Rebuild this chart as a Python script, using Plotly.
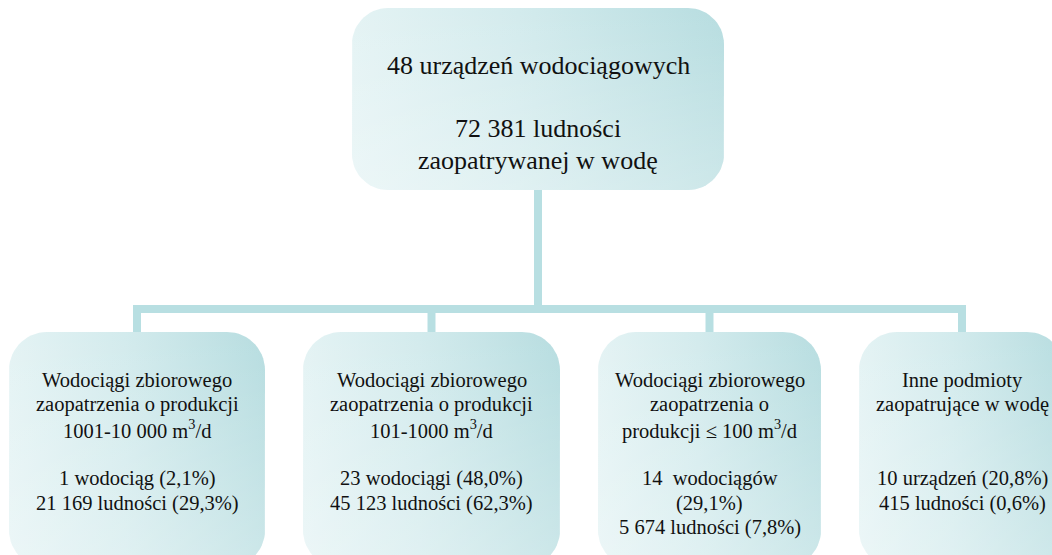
import numpy as np
import plotly.graph_objects as go

# ---------------- data ----------------
total_units = 48
total_population = 72381
top_lines = ["{} urządzeń wodociągowych", "", "{} ludności", "zaopatrywanej w wodę"]

categories = [
    ["Wodociągi zbiorowego", "zaopatrzenia o produkcji", "1001-10 000 m<sup>3</sup>/d"],
    ["Wodociągi zbiorowego", "zaopatrzenia o produkcji", "101-1000 m<sup>3</sup>/d"],
    ["Wodociągi zbiorowego", "zaopatrzenia o", "produkcji ≤ 100 m<sup>3</sup>/d"],
    ["Inne podmioty", "zaopatrujące w wodę"],
]
unit_words = ["wodociąg", "wodociągi", "\u00a0wodociągów", "urządzeń"]
units = [1, 23, 14, 10]
unit_pct = [2.1, 48.0, 29.1, 20.8]
population = [21169, 45123, 5674, 415]
population_pct = [29.3, 62.3, 7.8, 0.6]
wrap_units_pct = [False, False, True, False]

# ---------------- layout constants ----------------
W, H = 1052, 555
TOP_BOX = (352, 8, 724, 190)
BOXES_X = [(9, 265), (303, 560), (598, 821), (859, 1065)]
BOX_Y = (332, 568)
RADIUS_TOP = 36
RADIUS = 38
LINK_W = 8
BAR_Y = 309
C_LIGHT = "#e4f3f4"
C_DARK = "#b7dde0"
C_LINK = "#b8dfe2"
FONT = "'Liberation Serif', 'Times New Roman', serif"
TXT = "#111111"


def pl_int(n):
    return f"{n:,}".replace(",", " ")


def pl_pct(p):
    return f"{p:.1f}".replace(".", ",") + "%"


def rounded_rect(x0, y0, x1, y1, r, n=16):
    xs, ys = [], []
    corners = [
        (x1 - r, y0 + r, -np.pi / 2, 0),
        (x1 - r, y1 - r, 0, np.pi / 2),
        (x0 + r, y1 - r, np.pi / 2, np.pi),
        (x0 + r, y0 + r, np.pi, 1.5 * np.pi),
    ]
    for cx, cy, a0, a1 in corners:
        a = np.linspace(a0, a1, n)
        xs.extend(cx + r * np.cos(a))
        ys.extend(cy + r * np.sin(a))
    xs.append(xs[0])
    ys.append(ys[0])
    return xs, ys


fig = go.Figure()


def add_box(x0, y0, x1, y1, r):
    xs, ys = rounded_rect(x0, y0, x1, y1, r)
    fig.add_trace(go.Scatter(
        x=xs, y=ys, mode="lines", fill="toself",
        line=dict(width=0, color="rgba(0,0,0,0)"),
        fillgradient=dict(type="horizontal",
                          colorscale=[[0, C_LIGHT], [0.45, "#d3ebed"], [1, C_DARK]]),
        hoverinfo="skip", showlegend=False))
    fig.add_trace(go.Scatter(
        x=xs, y=ys, mode="lines", fill="toself",
        line=dict(width=0, color="rgba(0,0,0,0)"),
        fillgradient=dict(type="vertical",
                          colorscale=[[0, "rgba(255,255,255,0.3)"],
                                      [1, "rgba(255,255,255,0)"]]),
        hoverinfo="skip", showlegend=False))


# connectors
shapes = []
tcx = (TOP_BOX[0] + TOP_BOX[2]) / 2
centers = [(a + b) / 2 for a, b in BOXES_X]
shapes.append(dict(type="rect", xref="x", yref="y", layer="below",
                   x0=tcx - LINK_W / 2, x1=tcx + LINK_W / 2,
                   y0=TOP_BOX[3] - 2, y1=BAR_Y + LINK_W / 2,
                   fillcolor=C_LINK, line=dict(width=0)))
shapes.append(dict(type="rect", xref="x", yref="y", layer="below",
                   x0=centers[0] - LINK_W / 2, x1=centers[-1] + LINK_W / 2,
                   y0=BAR_Y - LINK_W / 2, y1=BAR_Y + LINK_W / 2,
                   fillcolor=C_LINK, line=dict(width=0)))
for c in centers:
    shapes.append(dict(type="rect", xref="x", yref="y", layer="below",
                       x0=c - LINK_W / 2, x1=c + LINK_W / 2,
                       y0=BAR_Y - LINK_W / 2, y1=BOX_Y[0] + 2,
                       fillcolor=C_LINK, line=dict(width=0)))

# boxes
add_box(*TOP_BOX, RADIUS_TOP)
for (x0, x1) in BOXES_X:
    add_box(x0, BOX_Y[0], x1, BOX_Y[1], RADIUS)

annotations = []

# top text
top_text = [top_lines[0].format(total_units), top_lines[1],
            top_lines[2].format(pl_int(total_population)), top_lines[3]]
TOP_Y0, TOP_PITCH = 65, 31.7
for i, t in enumerate(top_text):
    if t:
        annotations.append(dict(x=tcx, y=TOP_Y0 + i * TOP_PITCH, text=t,
                                showarrow=False, xanchor="center", yanchor="middle",
                                font=dict(family=FONT, size=26, color=TXT)))

# child texts
BOX_Y0, BOX_PITCH = 380, 24.6
for k, c in enumerate(centers):
    lines = list(categories[k])
    while len(lines) < 4:
        lines.append("")
    ulabel = f"{units[k]} {unit_words[k]}"
    upct = f"({pl_pct(unit_pct[k])})"
    if wrap_units_pct[k]:
        lines += [ulabel, upct]
    else:
        lines += [f"{ulabel} {upct}"]
    lines.append(f"{pl_int(population[k])} ludności ({pl_pct(population_pct[k])})")
    for i, t in enumerate(lines):
        if t:
            annotations.append(dict(x=c, y=BOX_Y0 + i * BOX_PITCH, text=t,
                                    showarrow=False, xanchor="center", yanchor="middle",
                                    font=dict(family=FONT, size=20.5, color=TXT)))

fig.update_layout(
    width=W, height=H, autosize=False,
    margin=dict(l=0, r=0, t=0, b=0, pad=0),
    paper_bgcolor="white", plot_bgcolor="white",
    font=dict(family=FONT),
    xaxis=dict(range=[0, W], visible=False, fixedrange=True),
    yaxis=dict(range=[H, 0], visible=False, fixedrange=True),
    shapes=shapes, annotations=annotations, showlegend=False,
)

fig.write_html("out.html", config={"displayModeBar": False},
               post_script="document.body.style.margin='0';document.body.style.overflow='hidden';")
